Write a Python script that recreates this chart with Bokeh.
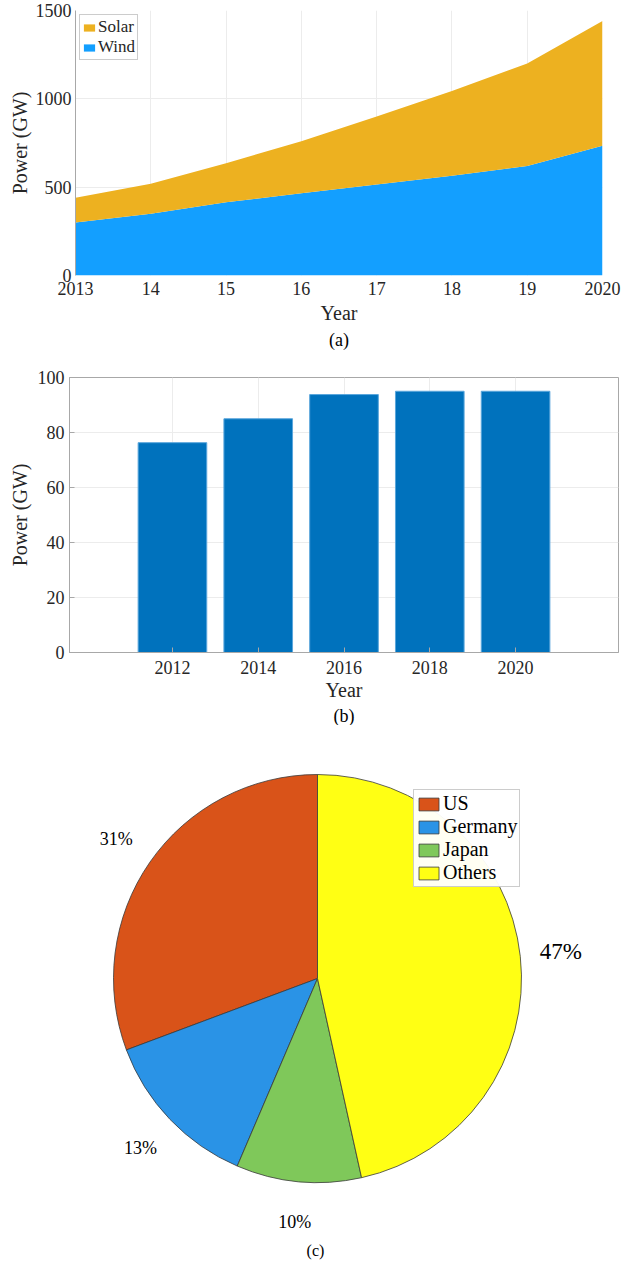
import numpy as np
from bokeh.plotting import figure
from bokeh.models import (ColumnDataSource, Legend, LegendItem, FixedTicker, Title,
                          Label, Range1d)
from bokeh.embed import file_html
from bokeh.resources import INLINE
from bokeh.core.properties import value

# ---------------- data ----------------
years_a = [2013, 2014, 2015, 2016, 2017, 2018, 2019, 2020]
year_labels_a = ["2013", "14", "15", "16", "17", "18", "19", "2020"]
wind = [300, 350, 415, 465, 515, 565, 620, 735]
solar = [140, 170, 220, 295, 385, 480, 580, 705]

years_b = [2012, 2014, 2016, 2018, 2020]
power_b = [76.3, 85.0, 93.8, 95.0, 95.0]

countries = ["US", "Germany", "Japan", "Others"]
shares = [31, 13, 10, 47]

# ---------------- style ----------------
FONT = "Liberation Serif"
TXT = "#262626"
WIND_C = "#139FFF"
SOLAR_C = "#EDB120"
BAR_C = "#0072BD"
PIE_C = ["#D95319", "#2A93E6", "#7FC85A", "#FFFF14"]
GRID_C = "#ececec"
FRAME_C = "#a8a8a8"


def style_axis(ax, label_size="18px"):
    ax.major_label_text_font = FONT
    ax.major_label_text_font_size = label_size
    ax.major_label_text_color = TXT
    ax.axis_label_text_font = FONT
    ax.axis_label_text_font_size = "20px"
    ax.axis_label_text_font_style = "normal"
    ax.axis_label_text_color = TXT
    ax.minor_tick_line_color = None


# ---------------- (a) stacked area ----------------
p1 = figure(width=630, height=350, x_range=Range1d(2013, 2020), y_range=Range1d(0, 1500),
            output_backend="svg", toolbar_location=None,
            min_border_left=75, min_border_right=28, min_border_top=10, min_border_bottom=75)
p1.outline_line_color = None
src_a = ColumnDataSource(dict(year=years_a, wind=wind, solar=solar))
rs = p1.varea_stack(["wind", "solar"], x="year", source=src_a, color=[WIND_C, SOLAR_C])

leg1 = Legend(items=[LegendItem(label="Solar", renderers=[rs[1]]),
                     LegendItem(label="Wind", renderers=[rs[0]])],
              location="top_left", margin=4, padding=2, spacing=0,
              glyph_width=14, glyph_height=9, label_height=17, label_standoff=2,
              label_text_font=FONT, label_text_font_size="17px", label_text_color=TXT,
              border_line_color="#9a9a9a", background_fill_alpha=1)
p1.add_layout(leg1)

p1.xaxis.ticker = FixedTicker(ticks=years_a)
p1.xaxis.major_label_overrides = {y: l for y, l in zip(years_a, year_labels_a)}
p1.yaxis.ticker = FixedTicker(ticks=[0, 500, 1000, 1500])
p1.xgrid.ticker = FixedTicker(ticks=years_a)
p1.ygrid.ticker = FixedTicker(ticks=[0, 500, 1000, 1500])
p1.grid.grid_line_color = GRID_C
for ax in (p1.xaxis[0], p1.yaxis[0]):
    style_axis(ax)
    ax.major_tick_in = 0
    ax.major_tick_out = 0
p1.xaxis.axis_line_color = None
p1.yaxis.axis_line_color = FRAME_C
p1.xaxis.major_label_standoff = 6
p1.yaxis.major_label_standoff = 4
p1.xaxis.axis_label = "Year"
p1.yaxis.axis_label = "Power (GW)"
p1.xaxis.axis_label_standoff = 4
p1.yaxis.axis_label_standoff = 2
p1.add_layout(Title(text="(a)", align="center", text_font=FONT, text_font_size="18px",
                    text_font_style="normal", text_color="black", standoff=2, offset=0), "below")

# ---------------- (b) bar chart ----------------
p2 = figure(width=630, height=375, x_range=Range1d(2009.6, 2022.4), y_range=Range1d(0, 100),
            output_backend="svg", toolbar_location=None,
            min_border_left=69, min_border_right=12, min_border_top=27, min_border_bottom=72)
p2.outline_line_color = FRAME_C
src_b = ColumnDataSource(dict(year=years_b, power=power_b))
p2.vbar(x="year", top="power", width=1.6, source=src_b, fill_color=BAR_C,
        line_color="#5aa6dc", line_width=1)
p2.xaxis.ticker = FixedTicker(ticks=years_b)
p2.yaxis.ticker = FixedTicker(ticks=[0, 20, 40, 60, 80, 100])
p2.xgrid.ticker = FixedTicker(ticks=years_b)
p2.ygrid.ticker = FixedTicker(ticks=[0, 20, 40, 60, 80, 100])
p2.grid.grid_line_color = GRID_C
for ax in (p2.xaxis[0], p2.yaxis[0]):
    style_axis(ax)
    ax.major_tick_in = 5
    ax.major_tick_out = 0
    ax.major_tick_line_color = FRAME_C
    ax.axis_line_color = FRAME_C
p2.xaxis.major_label_standoff = 8
p2.yaxis.major_label_standoff = 5
p2.xaxis.axis_label = "Year"
p2.yaxis.axis_label = "Power (GW)"
p2.xaxis.axis_label_standoff = 2
p2.yaxis.axis_label_standoff = 4
p2.add_layout(Title(text="(b)", align="center", text_font=FONT, text_font_size="18px",
                    text_font_style="normal", text_color="black", standoff=0, offset=0), "below")

# ---------------- (c) pie ----------------
R_PX = 204.0
p3 = figure(width=630, height=541, output_backend="svg", toolbar_location=None,
            x_range=Range1d(-317 / R_PX, 313 / R_PX), y_range=Range1d(-288 / R_PX, 253 / R_PX),
            x_axis_location=None, y_axis_location=None, min_border=0,
            min_border_left=0, min_border_right=0, min_border_top=0, min_border_bottom=0)
p3.outline_line_color = None
p3.grid.visible = False

fr = np.array(shares, dtype=float) / sum(shares)
cum = np.cumsum(fr)
start = np.pi / 2 + 2 * np.pi * (cum - fr)
end = np.pi / 2 + 2 * np.pi * cum
mid = (start + end) / 2
src_c = ColumnDataSource(dict(country=countries, start=start, end=end, color=PIE_C))
p3.wedge(x=0, y=0, radius=1, start_angle="start", end_angle="end", direction="anticlock",
         fill_color="color", line_color="#3a3a3a", line_width=0.8, source=src_c,
         legend_field="country")

lab_r = 1.2
lab_src = ColumnDataSource(dict(
    x=lab_r * np.cos(mid), y=lab_r * np.sin(mid),
    text=[f"{s}%" for s in shares],
    size=["18px" if s < 40 else "23px" for s in shares]))
p3.text(x="x", y="y", text="text", source=lab_src, text_align="center",
        text_baseline="middle", text_font=value(FONT), text_font_size="size",
        text_color="black")

leg3 = p3.legend[0]
leg3.location = (413, 379)
leg3.margin = 0
leg3.padding = 2
leg3.spacing = 0
leg3.glyph_width = 25
leg3.glyph_height = 16
leg3.label_height = 20
leg3.label_standoff = 2
leg3.label_text_font = FONT
leg3.label_text_font_size = "20px"
leg3.label_text_color = "black"
leg3.border_line_color = "#9a9a9a"

p3.add_layout(Label(x=315, y=16, x_units="screen", y_units="screen", text="(c)",
                    text_align="center", text_baseline="middle", text_font=FONT,
                    text_font_size="16px", text_color="black"))

html = file_html([p1, p2, p3], INLINE, title="chart")
with open("out.html", "w") as f:
    f.write(html)
